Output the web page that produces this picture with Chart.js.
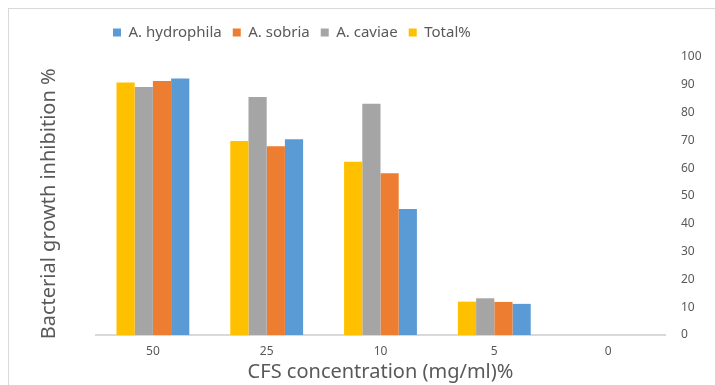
<!DOCTYPE html>
<html lang="en">
<head>
    <meta charset="UTF-8">
    <title>Bacterial growth inhibition</title>
    <script src="https://cdn.jsdelivr.net/npm/chart.js"></script>
    <style>
        body {
            margin: 0;
            background: #fff;
            overflow: hidden;
            font-family: "Noto Sans", Arial, sans-serif;
        }
        .frame {
            position: absolute;
            left: 8px;
            top: 8px;
            width: 720px;
            height: 390px;
            border: 1px solid #d9d9d9;
        }
        .chart-box {
            position: absolute;
            left: 0;
            top: 0;
            width: 715px;
            height: 385px;
        }
    </style>
</head>
<body>
    <div class="frame"></div>
    <div class="chart-box">
        <canvas id="inhibitionChart"></canvas>
    </div>

    <script>
        // Dados
        const concentrations = ['50', '25', '10', '5', '0'];
        const totalPct    = [90.8, 69.8, 62.3, 12.0, 0];
        const caviae      = [89.2, 85.6, 83.2, 13.2, 0];
        const sobria      = [91.4, 67.9, 58.2, 11.9, 0];
        const hydrophila  = [92.3, 70.4, 45.3, 11.2, 0];
        const yTicks = [0, 10, 20, 30, 40, 50, 60, 70, 80, 90, 100];

        const textColor = '#595959';
        const fontFamily = '"Noto Sans", Arial, sans-serif';

        // Ajusta a legenda: mais espaço abaixo e deslocada para a direita
        const legendTweak = {
            id: 'legendTweak',
            beforeLayout(chart) {
                const lg = chart.legend;
                if (lg && !lg._tweaked) {
                    const origFit = lg.fit.bind(lg);
                    lg.fit = function () {
                        origFit();
                        this.height += 7;
                    };
                    lg._tweaked = true;
                }
            },
            afterLayout(chart) {
                const lg = chart.legend;
                if (lg) {
                    lg.left += 6;
                    lg.right += 6;
                }
            }
        };

        const ctx = document.getElementById('inhibitionChart').getContext('2d');
        new Chart(ctx, {
            type: 'bar',
            data: {
                labels: concentrations,
                datasets: [
                    { label: 'Total%', data: totalPct, backgroundColor: '#FFC000' },
                    { label: 'A. caviae', data: caviae, backgroundColor: '#A5A5A5' },
                    { label: 'A. sobria', data: sobria, backgroundColor: '#ED7D31' },
                    { label: 'A. hydrophila', data: hydrophila, backgroundColor: '#5B9BD5' }
                ]
            },
            plugins: [legendTweak],
            options: {
                responsive: true,
                maintainAspectRatio: false,
                animation: false,
                categoryPercentage: 0.64,
                barPercentage: 1.0,
                layout: {
                    padding: { left: 30, right: 10, top: 14, bottom: 3 }
                },
                plugins: {
                    legend: {
                        position: 'top',
                        align: 'start',
                        fullSize: false,
                        reverse: true,
                        labels: {
                            boxWidth: 8,
                            boxHeight: 8,
                            padding: 11,
                            color: textColor,
                            font: { family: fontFamily, size: 15 }
                        }
                    },
                    tooltip: { enabled: false }
                },
                scales: {
                    x: {
                        afterFit: axis => { axis.height = 47; },
                        grid: { display: false, drawTicks: false },
                        border: { color: '#d9d9d9', width: 2 },
                        ticks: {
                            color: textColor,
                            padding: 9,
                            font: { family: fontFamily, size: 12 }
                        },
                        title: {
                            display: true,
                            text: 'CFS concentration (mg/ml)%',
                            color: textColor,
                            padding: 0,
                            font: { family: fontFamily, size: 20, lineHeight: 1 }
                        }
                    },
                    y: {
                        position: 'right',
                        min: 0,
                        max: 100,
                        afterFit: axis => { axis.width = 40; },
                        afterBuildTicks: axis => {
                            axis.ticks = yTicks.map(v => ({ value: v }));
                        },
                        grid: { display: false, drawTicks: false },
                        border: { display: false },
                        ticks: {
                            color: textColor,
                            padding: 16,
                            font: { family: fontFamily, size: 12 }
                        }
                    },
                    yTitle: {
                        position: 'left',
                        min: 0,
                        max: 100,
                        grid: { display: false, drawTicks: false },
                        border: { display: false },
                        ticks: { display: false },
                        afterFit: axis => { axis.width = 66; },
                        title: {
                            display: true,
                            text: 'Bacterial growth inhibition %   ',
                            color: textColor,
                            padding: { top: 9, bottom: 0 },
                            font: { family: fontFamily, size: 20, lineHeight: 1 }
                        }
                    }
                }
            }
        });
    </script>
</body>
</html>
